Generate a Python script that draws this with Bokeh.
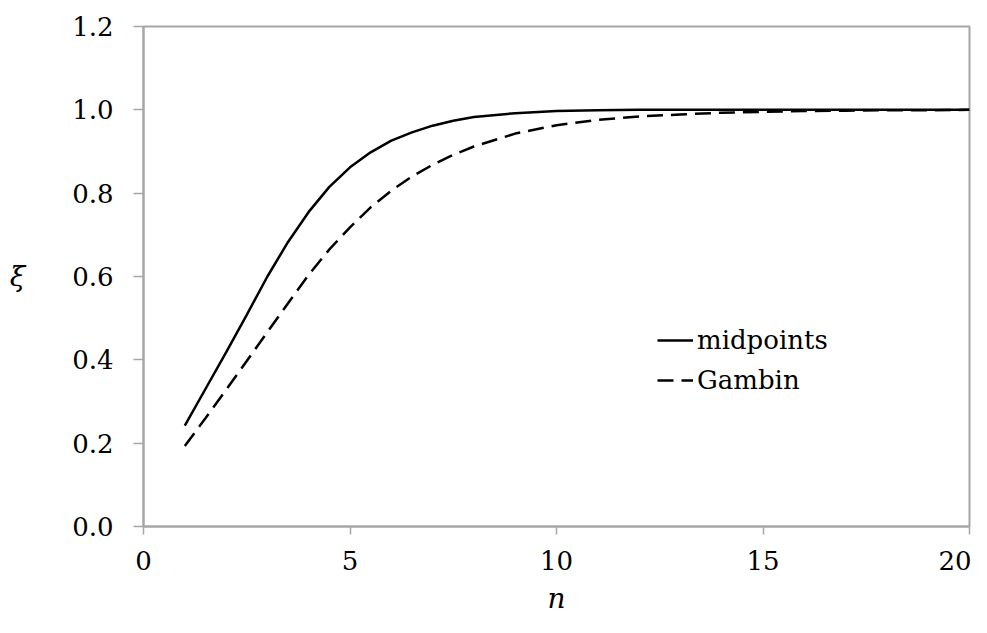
from bokeh.plotting import figure
from bokeh.models import Range1d, FixedTicker, Legend, LegendItem
from bokeh.embed import file_html
from bokeh.resources import INLINE

n_mid = [1, 1.5, 2, 2.5, 3, 3.5, 4, 4.5, 5, 5.5, 6, 6.5, 7, 7.5, 8, 9, 10,
         11, 12, 13, 14, 15, 16, 17, 18, 19, 20]
midpoints = [0.242, 0.330, 0.418, 0.508, 0.600, 0.683, 0.755, 0.815, 0.862, 0.898,
             0.926, 0.946, 0.962, 0.974, 0.983, 0.992, 0.997,
             0.999, 1.0, 1.0, 1.0, 1.0, 1.0, 1.0, 1.0, 1.0, 1.0]
n_gam = [1, 1.5, 2, 2.5, 3, 3.5, 4, 4.5, 5, 5.5, 6, 6.5, 7, 7.5, 8, 9, 10,
         11, 12, 13, 14, 15, 16, 17, 18, 19, 20]
gambin = [0.193, 0.260, 0.328, 0.397, 0.467, 0.536, 0.604, 0.665, 0.718, 0.766,
          0.806, 0.840, 0.868, 0.892, 0.912, 0.943, 0.963,
          0.976, 0.984, 0.989, 0.993, 0.995, 0.997, 0.998, 0.999, 0.999, 1.0]
x_ticks = [0, 5, 10, 15, 20]
y_ticks = [0.0, 0.2, 0.4, 0.6, 0.8, 1.0, 1.2]
x_label = "n"
y_label = "ξ"

FONT = "DejaVu Serif"
GRAY = "#a6a6a6"

p = figure(width=971, height=617, output_backend="svg", toolbar_location=None,
           x_range=Range1d(0, 20), y_range=Range1d(0, 1.2),
           min_border_left=143, min_border_right=2, min_border_top=26, min_border_bottom=91)
p.background_fill_color = "white"
p.border_fill_color = "white"
p.outline_line_color = GRAY
p.outline_line_width = 2
p.grid.visible = False

for ax in (p.xaxis[0], p.yaxis[0]):
    ax.axis_line_color = GRAY
    ax.axis_line_width = 2
    ax.major_tick_line_color = GRAY
    ax.major_tick_line_width = 1.5
    ax.major_tick_in = 0
    ax.minor_tick_line_color = None
    ax.major_label_text_font = FONT
    ax.major_label_text_font_size = "26px"
    ax.major_label_text_color = "black"
    ax.axis_label_text_font = FONT
    ax.axis_label_text_font_style = "italic"
    ax.axis_label_text_font_size = "28px"
    ax.axis_label_text_color = "black"

p.xaxis.ticker = FixedTicker(ticks=x_ticks)
p.yaxis.ticker = FixedTicker(ticks=y_ticks)
p.yaxis.major_label_overrides = {v: f"{v:.1f}" for v in y_ticks}
p.xaxis.major_tick_out = 8
p.yaxis.major_tick_out = 10
p.xaxis.major_label_standoff = 16
p.yaxis.major_label_standoff = 20
p.xaxis.axis_label = x_label
p.yaxis.axis_label = y_label
p.xaxis.axis_label_standoff = 9
p.yaxis.axis_label_standoff = 44
p.yaxis.axis_label_orientation = "horizontal"

r1 = p.line(n_mid, midpoints, line_color="black", line_width=2.5)
r2 = p.line(n_gam, gambin, line_color="black", line_width=2.5, line_dash="16 8")

legend = Legend(items=[LegendItem(label="midpoints", renderers=[r1]),
                       LegendItem(label="Gambin", renderers=[r2])],
                location=(514, 126))
legend.border_line_color = None
legend.background_fill_alpha = 0
legend.padding = 0
legend.margin = 0
legend.spacing = 0
legend.glyph_width = 36
legend.glyph_height = 40
legend.label_height = 40
legend.label_standoff = 4
legend.label_text_font = FONT
legend.label_text_font_size = "26px"
legend.label_text_color = "black"
p.add_layout(legend, "center")

open("out.html", "w").write(file_html(p, INLINE))
